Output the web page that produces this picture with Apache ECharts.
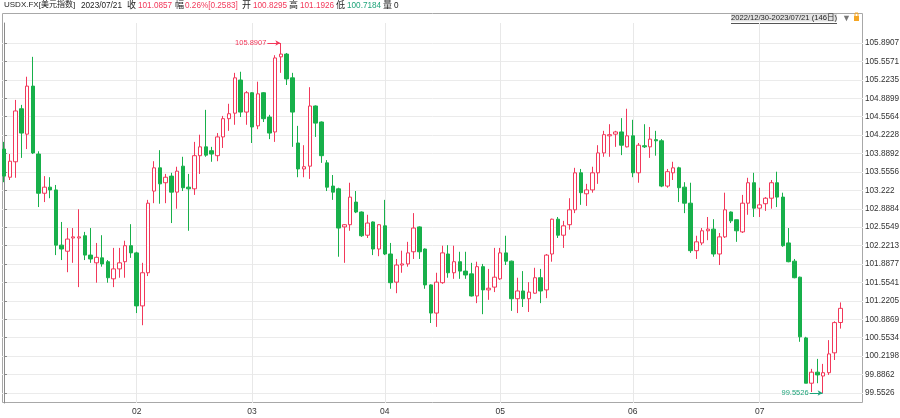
<!DOCTYPE html>
<html><head><meta charset="utf-8">
<script src="https://cdn.jsdelivr.net/npm/echarts@6/dist/echarts.min.js"></script>
<style>html,body{margin:0;padding:0;background:#fff}#c{width:900px;height:418px}</style>
</head><body><div id="c"></div>
<script>
const symbolName = 'USDX.FX[美元指数]';
const volume = 0;
const opens = [103.97,103.46,103.74,104.70,104.24,105.11,103.88,103.17,103.28,103.23,
102.23,102.12,102.36,102.36,102.40,102.05,101.91,102.00,101.93,101.62,
101.80,101.93,102.22,102.09,101.13,101.73,103.21,103.63,103.36,103.48,
103.19,103.66,103.28,103.25,103.85,104.01,103.94,103.85,104.19,104.52,
104.62,105.22,104.64,104.99,104.39,104.99,104.55,104.28,105.64,105.69,
105.26,104.08,103.61,103.66,104.75,104.46,103.72,103.30,103.25,102.56,
102.60,103.01,102.83,102.41,102.65,102.16,102.58,102.07,101.56,101.87,
101.89,102.11,102.56,102.16,101.51,101.00,101.55,102.07,101.73,101.93,
101.76,101.71,101.31,101.84,101.42,101.47,101.62,102.09,101.94,101.26,
101.40,101.26,101.36,101.64,101.42,102.07,102.70,102.41,102.60,102.87,
103.54,103.16,103.23,103.54,103.90,104.21,104.24,104.28,104.01,104.21,
103.54,104.03,104.01,104.14,104.12,103.30,103.54,103.63,103.28,102.99,
102.13,102.27,102.49,102.52,102.07,102.38,102.83,102.69,102.47,102.99,
103.36,102.90,102.98,103.08,103.36,103.10,102.27,101.94,101.65,100.55,
99.73,99.93,99.86,99.92,100.28,100.8295];
const closes = [103.48,103.75,104.66,104.26,105.11,103.90,103.17,103.28,103.23,102.23,
102.16,102.34,102.38,102.38,102.05,101.98,102.01,101.89,101.64,101.80,
101.91,102.22,102.09,101.13,101.73,102.99,103.63,103.34,103.46,103.19,
103.57,103.27,103.25,103.85,104.01,103.86,103.88,104.19,104.52,104.61,
105.26,104.64,104.99,104.37,104.97,104.52,104.26,105.62,105.69,105.24,
104.64,103.61,103.65,104.75,104.44,103.85,103.28,103.19,102.54,102.60,
103.10,102.83,102.40,102.63,102.16,102.60,102.07,101.55,101.87,101.89,
102.09,102.54,102.11,101.51,101.00,101.56,102.09,101.73,101.93,101.76,
101.69,101.31,101.84,101.42,101.45,101.65,102.09,101.94,101.26,101.40,
101.26,101.38,101.64,101.40,102.05,102.70,102.41,102.58,102.87,103.54,
103.18,103.23,103.54,103.90,104.23,104.23,104.28,104.04,104.21,103.54,
104.04,104.01,104.15,104.12,103.30,103.56,103.63,103.27,102.99,102.13,
102.29,102.49,102.52,102.07,102.38,102.87,102.67,102.49,102.99,103.36,
102.90,102.96,103.08,103.36,103.10,102.22,101.93,101.64,100.57,99.73,
99.93,99.88,99.92,100.26,100.8274,101.0857];
const lows = [103.37,103.41,103.45,103.81,103.97,103.88,102.92,103.01,103.08,102.05,
101.96,101.74,101.91,101.47,101.96,101.91,101.55,101.84,101.55,101.47,
101.64,101.64,102.00,101.00,100.78,101.67,102.99,102.98,102.99,102.63,
102.89,103.21,102.49,103.14,103.52,103.83,103.74,103.75,103.99,104.30,
104.41,104.55,104.41,104.08,104.33,104.46,104.15,104.10,105.35,105.13,
104.01,103.46,103.46,103.43,104.19,103.72,103.21,103.05,102.02,101.91,
102.49,102.81,102.38,102.36,102.05,102.03,102.05,101.44,101.36,101.73,
101.84,101.98,101.98,101.44,100.82,100.75,101.53,101.64,101.62,101.62,
101.62,101.30,101.18,100.98,101.24,101.38,101.60,101.87,101.04,101.00,
101.11,101.02,101.35,101.18,101.27,101.93,102.36,102.18,102.51,102.81,
102.96,102.94,103.18,103.34,103.83,103.83,104.01,103.86,104.00,103.46,
103.36,103.99,103.81,103.85,103.28,103.27,103.41,103.01,102.81,102.09,
101.98,102.23,102.32,102.02,101.87,102.36,102.63,102.29,102.45,102.78,
102.74,102.74,102.85,102.89,102.92,102.20,101.92,101.63,100.48,99.73,
99.57,99.73,99.5526,99.88,100.15,100.7184];
const highs = [104.10,103.88,104.86,104.77,105.28,105.64,103.93,103.48,103.46,103.32,
102.65,102.54,102.54,102.88,102.47,102.54,102.27,102.41,101.96,102.18,
102.18,102.31,102.61,102.11,101.91,103.05,103.75,103.95,103.52,103.54,
103.65,103.83,103.52,104.10,104.23,104.68,104.01,104.26,104.57,104.79,
105.35,105.37,105.02,105.00,105.19,105.00,104.59,105.67,105.8907,105.71,
105.35,104.39,104.04,105.09,104.76,104.47,103.77,103.50,103.27,102.61,
103.36,103.21,102.84,102.78,102.66,102.61,103.05,102.27,101.98,102.13,
102.29,102.81,102.57,102.17,101.52,101.73,102.22,102.23,102.22,102.11,
102.11,101.91,101.93,101.89,101.80,102.18,102.18,102.40,101.95,101.64,
101.76,101.56,101.82,101.80,102.07,102.71,102.74,102.67,103.08,103.63,
103.61,103.34,103.65,104.04,104.30,104.42,104.30,104.53,104.70,104.50,
104.08,104.42,104.37,104.30,104.15,103.61,103.74,103.65,103.37,103.36,
102.40,102.54,102.74,102.70,102.45,103.18,102.84,102.69,103.14,103.45,
103.54,103.27,103.10,103.41,103.56,103.18,102.54,101.98,101.66,100.57,
99.99,100.17,100.08,100.51,100.85,101.1926];
const yTickLabels = [99.5526,99.8862,100.2198,100.5534,100.8869,101.2205,101.5541,101.8877,102.2213,102.5549,
102.8884,103.222,103.5556,103.8892,104.2228,104.5564,104.8899,105.2235,105.5571,105.8907];

// trading days (weekdays) 2022/12/30 .. 2023/07/21
const dates = [];
(function () {
  const pad = n => (n < 10 ? '0' : '') + n;
  const d = new Date(2022, 11, 30), end = new Date(2023, 6, 21);
  while (d <= end) {
    const w = d.getDay();
    if (w !== 0 && w !== 6) dates.push(d.getFullYear() + '/' + pad(d.getMonth() + 1) + '/' + pad(d.getDate()));
    d.setDate(d.getDate() + 1);
  }
})();
// first trading day of each month, skipping the year boundary next to the first bar
const monthStarts = [];
for (let i = 2; i < dates.length; i++) if (dates[i].slice(5, 7) !== dates[i - 1].slice(5, 7)) monthStarts.push(i);

const RED = '#f2385a', GREEN = '#17b04a', TXTGREEN = '#1fa47a';
const FONT = '"Liberation Sans",Arial,Helvetica,"Noto Sans CJK SC",sans-serif';
const CJK = '"Noto Sans CJK SC","Liberation Sans",sans-serif';

const n = closes.length;
const last = n - 1;
const chg = closes[last] - closes[last - 1];
const pct = chg / closes[last - 1] * 100;
const maxIdx = highs.indexOf(Math.max(...highs));
const minIdx = lows.indexOf(Math.min(...lows));
const candleData = opens.map((o, i) => [i, o, closes[i], lows[i], highs[i]]);

const chart = echarts.init(document.getElementById('c'), null, { renderer: 'canvas' });

function hdr(x, text, color, cjk) {
  return { type: 'text', x: x, y: cjk ? 0 : 2, style: { text: text, fill: color || '#222', font: cjk ? '9px ' + CJK : '8.2px ' + FONT } };
}

chart.setOption({
  animation: false,
  backgroundColor: '#fff',
  grid: { left: 2, right: 37, top: 23, bottom: 15, show: false, outerBoundsMode: 'none', containLabel: false },
  xAxis: {
    type: 'value', min: -0.35, max: 148.9,
    axisLine: { show: false },
    axisTick: { show: false, customValues: monthStarts },
    axisLabel: { customValues: monthStarts, formatter: v => dates[Math.round(v)].slice(5, 7), fontSize: 8.5, color: '#333', margin: 4, fontFamily: FONT },
    splitLine: { show: true, lineStyle: { color: '#e8e8e8', width: 1 } }
  },
  yAxis: {
    type: 'value', position: 'right', min: 99.3715, max: 106.2529,
    axisLine: { show: true, lineStyle: { color: '#8a8a8a' } },
    axisTick: { show: true, inside: false, length: 3, customValues: yTickLabels, lineStyle: { color: '#8a8a8a' } },
    axisLabel: { customValues: yTickLabels, formatter: v => String(v), fontSize: 8.2, color: '#333', margin: 2, fontFamily: FONT },
    splitLine: { show: true, lineStyle: { color: '#ebebeb', width: 1 } }
  },
  series: [{
    type: 'candlestick',
    data: candleData,
    encode: { x: 0, y: [1, 2, 3, 4] },
    barWidth: 4,
    itemStyle: { color: '#ffffff', color0: GREEN, borderColor: RED, borderColor0: GREEN, borderWidth: 1 },
    markLine: {
      silent: true, symbol: ['none', 'arrow'], symbolSize: [4, 5], animation: false,
      lineStyle: { type: 'solid', width: 1 },
      data: [
        [{ coord: [maxIdx - 2.35, highs[maxIdx]], lineStyle: { color: RED },
           label: { show: true, position: 'start', distance: 1, formatter: String(highs[maxIdx]), color: RED, fontSize: 7.5, fontFamily: FONT } },
         { coord: [maxIdx - 0.1, highs[maxIdx]] }],
        [{ coord: [minIdx - 2.35, lows[minIdx]], lineStyle: { color: TXTGREEN },
           label: { show: true, position: 'start', distance: 1, formatter: String(lows[minIdx]), color: TXTGREEN, fontSize: 7.5, fontFamily: FONT } },
         { coord: [minIdx - 0.1, lows[minIdx]] }]
      ]
    }
  }],
  graphic: [
    { type: 'rect', silent: true, z: -1, shape: { x: 2.5, y: 13.5, width: 860, height: 389 }, style: { fill: 'none', stroke: '#a8a8a8', lineWidth: 1 } },
    { type: 'text', x: 4, y: 1, style: { text: symbolName, fill: '#222', font: '8px ' + FONT } },
    hdr(81, dates[last]),
    hdr(127, '收', '#222', true), hdr(138, closes[last].toFixed(4), RED),
    hdr(175, '幅', '#222', true), hdr(185, pct.toFixed(2) + '%[' + chg.toFixed(4) + ']', RED),
    hdr(242, '开', '#222', true), hdr(253, opens[last].toFixed(4), RED),
    hdr(289, '高', '#222', true), hdr(300, highs[last].toFixed(4), RED),
    hdr(336, '低', '#222', true), hdr(347, lows[last].toFixed(4), TXTGREEN),
    hdr(383, '量', '#222', true), hdr(394, String(volume)),
    { type: 'text', x: 837, y: 14, style: { text: dates[0] + '-' + dates[last] + ' (' + n + '日)', align: 'right', fill: '#222', font: '7.6px ' + FONT, backgroundColor: '#e2e2e2' } },
    { type: 'line', shape: { x1: 731, y1: 23.5, x2: 837, y2: 23.5 }, style: { stroke: '#555', lineWidth: 1 } },
    { type: 'text', x: 842, y: 14, style: { text: '▼', fill: '#777', font: '9px ' + FONT } },
    { type: 'rect', shape: { x: 854, y: 16, width: 5, height: 5 }, style: { fill: '#f5a623' } },
    { type: 'rect', shape: { x: 855, y: 13, width: 3, height: 4 }, style: { fill: 'none', stroke: '#f5a623', lineWidth: 1 } }
  ]
});
</script></body></html>
